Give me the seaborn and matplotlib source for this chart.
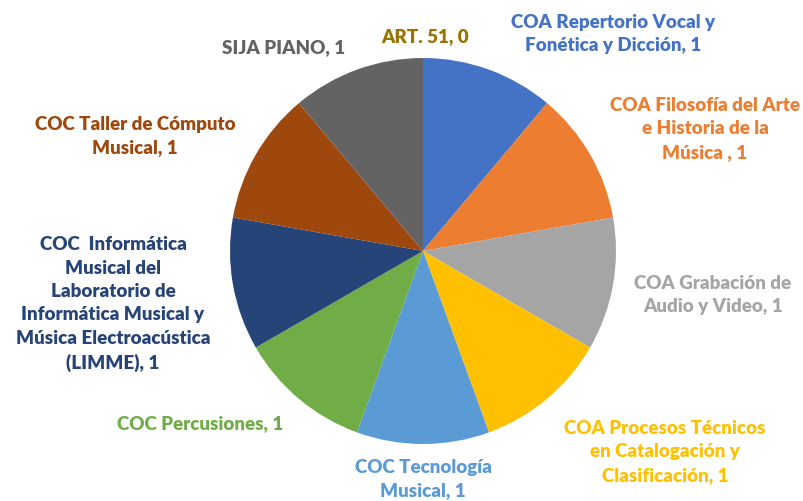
import matplotlib.pyplot as plt
import seaborn as sns

# Data (clockwise from 12 o'clock)
categories = [
    "COA Repertorio Vocal y\nFonética y Dicción",
    "COA Filosofía del Arte\ne Historia de la\nMúsica ",
    "COA Grabación de\nAudio y Video",
    "COA Procesos Técnicos\nen Catalogación y\nClasificación",
    "COC Tecnología\nMusical",
    "COC Percusiones",
    "COC  Informática\nMusical del\nLaboratorio de\nInformática Musical y\nMúsica Electroacústica\n(LIMME)",
    "COC Taller de Cómputo\nMusical",
    "SIJA PIANO",
    "ART. 51",
]
values = [1, 1, 1, 1, 1, 1, 1, 1, 1, 0]
colors = ["#4472C4", "#ED7D31", "#A5A5A5", "#FFC000", "#5B9BD5",
          "#70AD47", "#264478", "#9E480E", "#636363", "#997300"]

# label anchor positions in pixel space (x, y from top)
label_pos = [(613, 34), (705, 129), (713, 295), (665, 452), (423, 479),
             (200, 424), (113, 304), (135, 136), (284, 48), (425, 37)]

sns.set_theme(style="white")
plt.rcParams["font.family"] = ["Lato", "DejaVu Sans"]

fig = plt.figure(figsize=(8.04, 5.02), dpi=100)
ax = fig.add_axes([0, 0, 1, 1])

ax.pie(values, colors=colors, startangle=90, counterclock=False,
       center=(423, 502 - 252), radius=193, frame=True,
       wedgeprops=dict(linewidth=0))
ax.set_xlim(0, 804)
ax.set_ylim(0, 502)
ax.set_aspect("equal")
ax.axis("off")

for cat, v, c, (x, y) in zip(categories, values, colors, label_pos):
    ax.text(x, 502 - y, f"{cat}, {v}", color=c, fontsize=13.5, fontweight="heavy",
            ha="center", va="center", multialignment="center", linespacing=1.45)

fig.savefig("out.png", dpi=100)
